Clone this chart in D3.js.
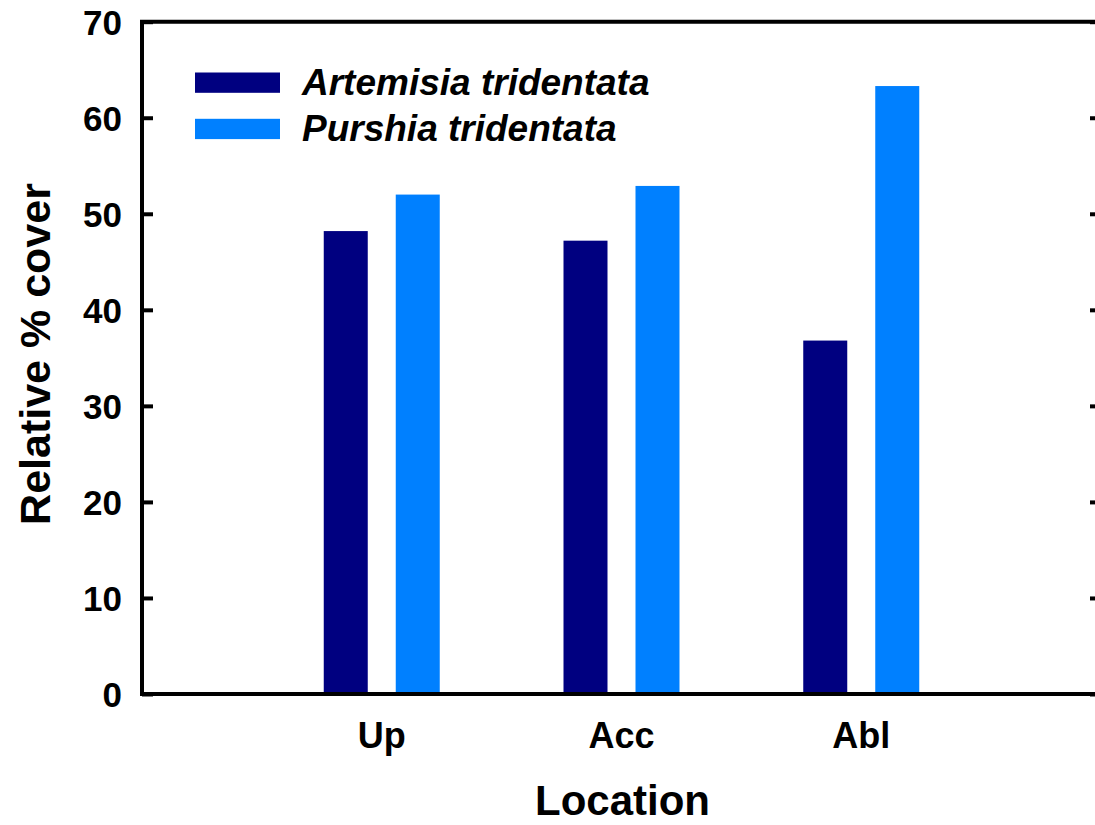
<!DOCTYPE html>
<html>
<head>
<meta charset="utf-8">
<script src="https://cdn.jsdelivr.net/npm/d3@7"></script>
<style>
	html, body { margin: 0; padding: 0; background: #fff; overflow: hidden; }
	text { font-family: "Liberation Sans", Arial, sans-serif; font-weight: bold; fill: #000; }
</style>
</head>
<body>
<div id="content"></div>
<script>
// Data
var locations = ["Up", "Acc", "Abl"];
var species = ["Artemisia tridentata", "Purshia tridentata"];
var artemisia = [48.2, 47.2, 36.8];
var purshia = [52.0, 52.9, 63.3];
var yTicks = [0, 10, 20, 30, 40, 50, 60, 70];
var colors = ["#000080", "#0080ff"];

function main() {
	var svg = d3.select("#content")
		.append("svg")
		.attr("width", 1095)
		.attr("height", 825);

	// plot frame (right edge sits just off the page)
	var left = 142, right = 1101, top = 21.7, bottom = 694;

	var y = d3.scaleLinear()
		.domain([0, 70])
		.range([bottom, top]);

	// one band per location, half a band of empty space each side
	var bandW = (right - left) / (locations.length + 1);
	var x = d3.scaleBand()
		.domain(locations)
		.range([left + bandW / 2, right - bandW / 2]);

	// two bars of 44px with a 28px gap
	var inner = d3.scaleBand()
		.domain(species)
		.range([-58, 58])
		.paddingInner(28 / 72)
		.paddingOuter(0);

	var rows = locations.map(function (loc, i) {
		return { loc: loc, values: [artemisia[i], purshia[i]] };
	});

	// bars
	var groups = svg.append("g")
		.selectAll("g")
		.data(rows)
		.enter().append("g")
		.attr("transform", function (d) { return "translate(" + (x(d.loc) + x.bandwidth() / 2) + ",0)"; });

	groups.selectAll("rect")
		.data(function (d) { return d.values.map(function (v, j) { return { sp: species[j], v: v, j: j }; }); })
		.enter().append("rect")
		.attr("x", function (d) { return inner(d.sp); })
		.attr("width", inner.bandwidth())
		.attr("y", function (d) { return y(d.v); })
		.attr("height", function (d) { return bottom - y(d.v); })
		.attr("fill", function (d) { return colors[d.j]; });

	// axes: left with labels, right ticks only, both ticking inward
	var yAxisL = svg.append("g")
		.attr("transform", "translate(" + left + ",0)")
		.call(d3.axisLeft(y).tickValues(yTicks).tickSizeInner(-11).tickSizeOuter(0).tickPadding(20));
	yAxisL.select(".domain").remove();
	yAxisL.selectAll(".tick line").attr("stroke", "#000").attr("stroke-width", 4);
	yAxisL.selectAll(".tick text")
		.attr("x", 122 - left)
		.attr("dy", "0.36em")
		.style("font-size", "35px");

	var yAxisR = svg.append("g")
		.attr("transform", "translate(" + right + ",0)")
		.call(d3.axisRight(y).tickValues(yTicks).tickSizeInner(-11).tickSizeOuter(0).tickFormat(""));
	yAxisR.select(".domain").remove();
	yAxisR.selectAll(".tick line").attr("stroke", "#000").attr("stroke-width", 4);

	// frame lines
	svg.append("path")
		.attr("d", "M" + left + "," + top + "H" + right + "M" + left + "," + bottom + "H" + right +
			"M" + left + "," + (top - 2) + "V" + (bottom + 2) + "M" + right + "," + (top - 2) + "V" + (bottom + 2))
		.attr("stroke", "#000")
		.attr("stroke-width", 4)
		.attr("fill", "none");

	// x labels
	var xAxis = svg.append("g")
		.attr("transform", "translate(0," + bottom + ")")
		.call(d3.axisBottom(x).tickSize(0).tickPadding(0));
	xAxis.select(".domain").remove();
	xAxis.selectAll(".tick text")
		.attr("y", 748 - bottom)
		.attr("dy", 0)
		.style("font-size", "36px");

	// axis titles
	svg.append("text")
		.attr("x", (left + right) / 2 + 1)
		.attr("y", 815)
		.attr("text-anchor", "middle")
		.style("font-size", "42px")
		.text("Location");

	svg.append("text")
		.attr("transform", "translate(50,354) rotate(-90)")
		.attr("text-anchor", "middle")
		.style("font-size", "43px")
		.text("Relative % cover");

	// legend
	var legend = svg.append("g")
		.selectAll("g")
		.data(species)
		.enter().append("g")
		.attr("transform", function (d, i) { return "translate(195," + (72.5 + i * 46.3) + ")"; });

	legend.append("rect")
		.attr("width", 85)
		.attr("height", 20.3)
		.attr("fill", function (d, i) { return colors[i]; });

	legend.append("text")
		.attr("x", 107)
		.attr("y", 22)
		.style("font-size", "37px")
		.style("font-style", "italic")
		.text(function (d) { return d; });
}

main();
</script>
</body>
</html>
